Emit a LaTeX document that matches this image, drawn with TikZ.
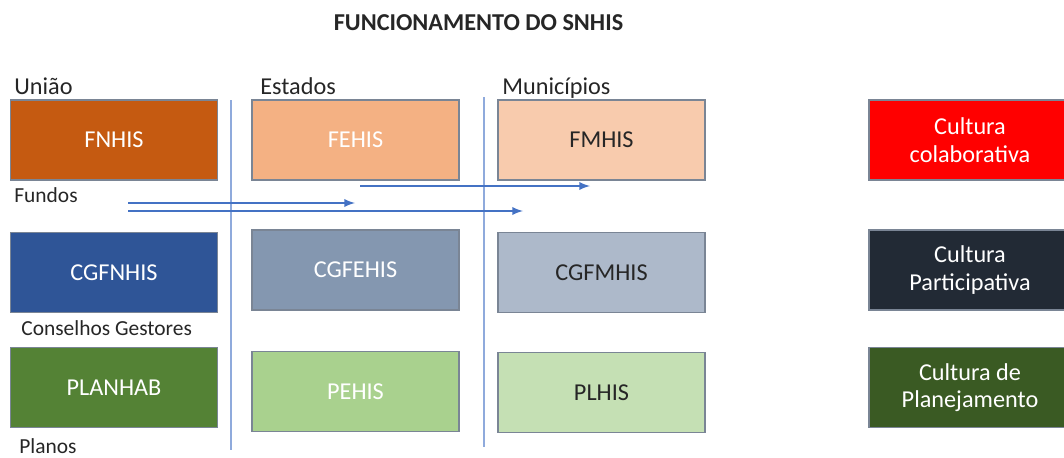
\documentclass[tikz,border=0pt]{standalone}
\usepackage{fontspec}
\setmainfont{Carlito}
\usepackage{xcolor}
\usetikzlibrary{positioning}
\definecolor{fnhisorange}{HTML}{C55A11}
\definecolor{fehispeach}{HTML}{F4B183}
\definecolor{fmhispeach}{HTML}{F8CBAD}
\definecolor{cgfnblue}{HTML}{2F5597}
\definecolor{cgfeblue}{HTML}{8497B0}
\definecolor{cgfmblue}{HTML}{ADB9CA}
\definecolor{planhabgreen}{HTML}{548235}
\definecolor{pehisgreen}{HTML}{A9D18E}
\definecolor{plhisgreen}{HTML}{C5E0B4}
\definecolor{colabred}{HTML}{FF0000}
\definecolor{particnavy}{HTML}{222A35}
\definecolor{planejgreen}{HTML}{3A5A23}
\definecolor{arrowblue}{HTML}{4472C4}
\definecolor{dividerblue}{HTML}{8FAADC}
\definecolor{boxline}{HTML}{7A8595}
\definecolor{labelgray}{HTML}{262626}
\newcommand{\txtsize}{\fontsize{13.8}{15.6}\selectfont}
\newcommand{\rowsize}{\fontsize{12.2}{14}\selectfont}
\tikzset{
  block/.style={draw=boxline, line width=0.6pt, minimum width=4.14cm,
    minimum height=1.6cm, align=center, font=\txtsize, text=white},
  culture/.style={block, minimum width=4.04cm},
  tag/.style={anchor=base west, inner sep=0pt, text=labelgray, font=\txtsize},
  rowtag/.style={tag, font=\rowsize},
  divider/.style={dividerblue, line width=0.8pt},
  flow/.style={->, >=latex, arrowblue, line width=1.1pt}
}

\begin{document}
\begin{tikzpicture}
\useasboundingbox (0,0) rectangle (21.28,9.14);

\node[font=\txtsize\bfseries, text=labelgray] (title) at (9.57,8.68) {FUNCIONAMENTO DO SNHIS};

\node[tag] (uniao) at (0.28,7.26) {União};
\node[tag] (estados) at (5.20,7.26) {Estados};
\node[tag] (municipios) at (10.04,7.26) {Municípios};

% fundos
\node[block, fill=fnhisorange] (fnhis) at (2.28,6.34) {FNHIS};
\node[block, fill=fehispeach] (fehis) at (7.11,6.34) {FEHIS};
\node[block, fill=fmhispeach, text=labelgray] (fmhis) at (12.03,6.34) {FMHIS};
\node[culture, fill=colabred] (colab) at (19.40,6.34) {Cultura\\colaborativa};
\node[rowtag] (fundos) at (0.28,5.10) {Fundos};

% conselhos gestores
\node[block, fill=cgfnblue] (cgfnhis) at (2.28,3.69) {CGFNHIS};
\node[block, fill=cgfeblue] (cgfehis) at (7.11,3.74) {CGFEHIS};
\node[block, fill=cgfmblue, text=labelgray] (cgfmhis) at (12.03,3.69) {CGFMHIS};
\node[culture, fill=particnavy] (particip) at (19.40,3.74) {Cultura\\Participativa};
\node[rowtag] (conselhos) at (0.42,2.44) {Conselhos Gestores};

% planos
\node[block, fill=planhabgreen] (planhab) at (2.28,1.39) {PLANHAB};
\node[block, fill=pehisgreen] (pehis) at (7.11,1.31) {PEHIS};
\node[block, fill=plhisgreen, text=labelgray] (plhis) at (12.03,1.29) {PLHIS};
\node[culture, fill=planejgreen] (planej) at (19.40,1.39) {Cultura de\\Planejamento};
\node[rowtag] (planos) at (0.38,0.07) {Planos};

% divisorias
\coordinate (d1top) at (4.62,7.14);
\coordinate (d1bot) at (4.62,0.14);
\coordinate (d2top) at (9.68,7.20);
\coordinate (d2bot) at (9.68,0.20);
\draw[divider] (d1top) -- (d1bot);
\draw[divider] (d2top) -- (d2bot);

% repasses
\coordinate (estm) at (7.20,5.42);
\coordinate (estmend) at (11.80,5.42);
\coordinate (unie) at (2.56,5.08);
\coordinate (uniend) at (7.10,5.08);
\coordinate (unim) at (2.56,4.92);
\coordinate (unimend) at (10.46,4.92);
\draw[flow] (estm) -- (estmend);
\draw[flow] (unie) -- (uniend);
\draw[flow] (unim) -- (unimend);
\end{tikzpicture}
\end{document}
